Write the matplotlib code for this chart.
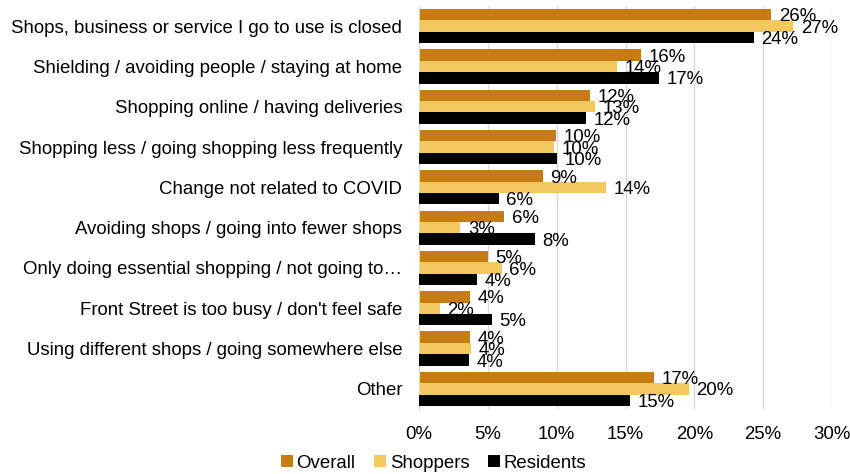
import matplotlib
matplotlib.use("Agg")
import matplotlib.pyplot as plt
import numpy as np
from matplotlib.ticker import PercentFormatter

plt.rcParams['font.family'] = ['Liberation Sans', 'DejaVu Sans']

# reasons for changing shopping habits (share of respondents, %)
categories = [
    "Shops, business or service I go to use is closed",
    "Shielding / avoiding people / staying at home",
    "Shopping online / having deliveries",
    "Shopping less / going shopping less frequently",
    "Change not related to COVID",
    "Avoiding shops / going into fewer shops",
    "Only doing essential shopping / not going to\u2026",
    "Front Street is too busy / don't feel safe",
    "Using different shops / going somewhere else",
    "Other",
]
overall = [25.6, 16.1, 12.4, 9.95, 9.0, 6.2, 5.0, 3.7, 3.7, 17.1]
shoppers = [27.2, 14.4, 12.8, 9.8, 13.6, 3.0, 6.0, 1.5, 3.8, 19.6]
residents = [24.3, 17.4, 12.1, 10.0, 5.8, 8.4, 4.2, 5.3, 3.65, 15.3]

series = [("Overall", overall, "#C77C12"),
          ("Shoppers", shoppers, "#F3C95F"),
          ("Residents", residents, "#000000")]

fs = 13.4

fig = plt.figure(figsize=(8.5, 4.74), dpi=100)
ax = fig.add_axes([419 / 850, 1 - 409 / 474, (832 - 419) / 850, 403 / 474])

y = np.arange(len(categories))
h = 0.283
# in the original the residents bars hide the shoppers labels they cross
bar_z = [2, 2, 4]
for j, (name, vals, col) in enumerate(series):
    pos = y + (j - 1) * h
    ax.barh(pos, vals, height=h, color=col, label=name, zorder=bar_z[j])
    for p, v in zip(pos, vals):
        ax.annotate(f"{round(v):.0f}%", (v, p), xytext=(5.5, -1.5),
                    textcoords="offset points", va="center", ha="left",
                    fontsize=fs, color="#000000", zorder=bar_z[j] + 1)

ax.set_xlim(0, 30)
ax.set_ylim(len(categories) - 0.5, -0.5)
ax.set_yticks(y)
ax.set_yticklabels(categories, fontsize=fs)
ax.set_xticks(np.arange(0, 31, 5))
ax.xaxis.set_major_formatter(PercentFormatter(decimals=0))
ax.tick_params(axis="x", length=0, labelsize=fs, pad=12)
ax.tick_params(axis="y", length=0, pad=12)
ax.grid(axis="x", color="#D9D9D9", linewidth=1, zorder=0)
for s in ["top", "right", "bottom"]:
    ax.spines[s].set_visible(False)
ax.spines["left"].set_color("#D9D9D9")

fig.legend(loc="center", bbox_to_anchor=(0.51, 1 - 463 / 474), ncol=3,
           frameon=False, fontsize=fs, handlelength=0.65, handleheight=0.65,
           handletextpad=0.2, columnspacing=1.0)

fig.savefig("out.png", dpi=100)
